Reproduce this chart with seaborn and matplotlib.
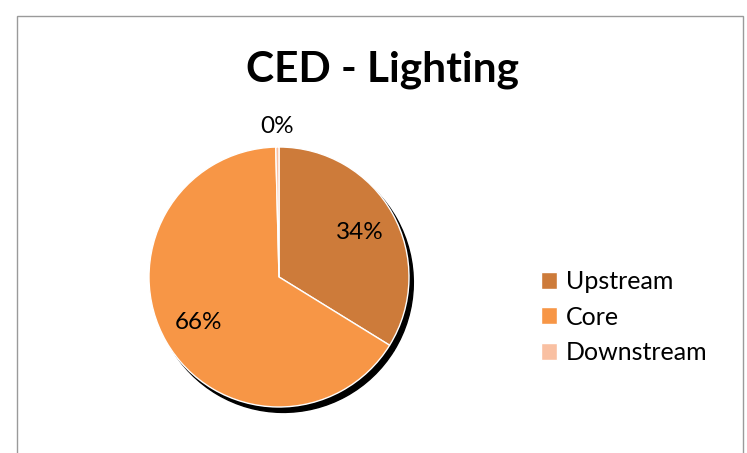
#!/usr/bin/env python3

# Import basic modules
import numpy as np
import matplotlib
matplotlib.use('Agg')
import matplotlib.pyplot as plt
import matplotlib.patches as mpatches
import seaborn as sns

# Set seaborn graph styling
sns.set_style("white")
plt.rcParams['font.family'] = ['Lato', 'DejaVu Sans']

# Chart data
title = 'CED - Lighting'
categories = ['Upstream', 'Core', 'Downstream']
shares = [33.8, 65.8, 0.4]
colors = ['#CD7B3A', '#F79646', '#F9C0A2']

# Figure canvas
fig = plt.figure(figsize=(7.47, 4.53), dpi=100)
fig.patch.set_facecolor('white')

# Chart border (open at the bottom edge)
border = mpatches.Rectangle((17 / 747, -0.1), 726 / 747, 1.1 - 16 / 453,
                            transform=fig.transFigure, fill=False,
                            edgecolor='#9A9A9A', linewidth=1.0)
fig.patches.append(border)

# Title
fig.text(0.512, 0.846, title, ha='center', va='center',
         fontsize=30.5, fontweight='bold', color='black')

# Pie axes
ax = fig.add_axes([116.5 / 747, 13.5 / 453, 325 / 747, 325 / 453])
wedges, texts, autotexts = ax.pie(
    shares, colors=colors, startangle=90, counterclock=False,
    autopct='%1.0f%%', pctdistance=0.71,
    wedgeprops={'edgecolor': 'white', 'linewidth': 1.0},
    textprops={'fontsize': 17.5, 'color': 'black'},
    shadow={'ox': 0.024, 'oy': -0.03, 'shade': 1.0, 'alpha': 1.0})
ax.set_xlim(-1.25, 1.25)
ax.set_ylim(-1.25, 1.25)

# Tiny slice gets its label outside the pie
w = wedges[2]
mid = np.deg2rad((w.theta1 + w.theta2) / 2)
autotexts[2].set_position((1.16 * np.cos(mid), 1.16 * np.sin(mid)))

# Legend
fig.legend(wedges, categories, loc='center left',
           bbox_to_anchor=(0.724, 0.300), frameon=False,
           fontsize=18, labelcolor='black',
           handlelength=0.65, handleheight=0.65,
           handletextpad=0.35, labelspacing=0.5, borderaxespad=0.0,
           borderpad=0.0)

fig.savefig('out.png', dpi=100)
